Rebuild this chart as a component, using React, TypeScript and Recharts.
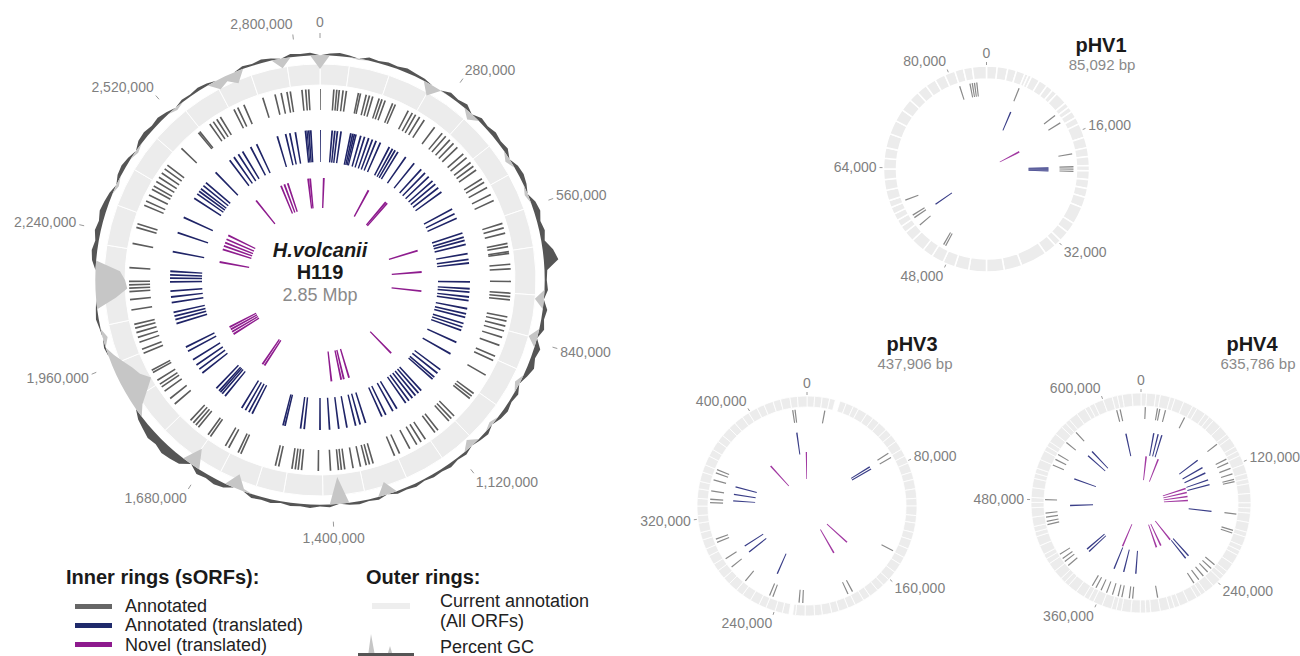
import { PieChart, Pie, Cell, RadarChart, Radar, PolarAngleAxis, PolarRadiusAxis } from 'recharts';

const FONT = '"Liberation Sans", Arial, sans-serif';

// ---- main chromosome (H. volcanii H119) ----
const mainLength = 2850000;
const mainTicks = [0, 280000, 560000, 840000, 1120000, 1400000, 1680000, 1960000, 2240000, 2520000, 2800000];
// sORF positions, kbp
const mainAnnotatedKb = [0, 33, 40, 46, 55, 63, 92, 97, 111, 119, 127, 143, 150, 158, 177, 184, 218, 229, 238, 249, 262, 292, 315, 326, 339, 351, 364, 385, 397, 412, 423, 434, 459, 469, 483, 502, 518, 576, 587, 600, 625, 633, 645, 649, 675, 686, 716, 744, 752, 760, 801, 811, 823, 835, 851, 871, 899, 910, 949, 1001, 1009, 1016, 1072, 1081, 1089, 1123, 1132, 1160, 1172, 1184, 1203, 1230, 1243, 1297, 1306, 1314, 1328, 1346, 1366, 1374, 1381, 1400, 1429, 1469, 1477, 1484, 1492, 1524, 1532, 1619, 1626, 1651, 1660, 1702, 1709, 1738, 1746, 1754, 1763, 1817, 1834, 1856, 1868, 1876, 1887, 1908, 1914, 1959, 1969, 1987, 1999, 2011, 2022, 2031, 2066, 2091, 2110, 2118, 2126, 2134, 2167, 2225, 2264, 2273, 2320, 2331, 2347, 2362, 2371, 2383, 2395, 2407, 2419, 2430, 2482, 2537, 2541, 2571, 2581, 2591, 2601, 2638, 2648, 2664, 2712, 2742, 2757, 2771, 2779, 2807, 2816, 2823];
const mainTranslatedKb = [0, 37, 45, 53, 64, 94, 100, 105, 110, 125, 137, 150, 162, 174, 188, 218, 229, 238, 248, 276, 308, 336, 352, 368, 385, 398, 412, 428, 489, 505, 520, 568, 581, 591, 604, 632, 650, 661, 718, 739, 749, 764, 775, 800, 816, 827, 846, 857, 868, 907, 946, 1003, 1017, 1032, 1040, 1089, 1100, 1112, 1124, 1137, 1149, 1181, 1195, 1219, 1232, 1285, 1302, 1316, 1343, 1368, 1396, 1425, 1473, 1484, 1532, 1538, 1638, 1649, 1661, 1674, 1736, 1747, 1754, 1760, 1771, 1834, 1849, 1864, 1883, 1913, 1927, 2004, 2016, 2027, 2039, 2069, 2086, 2104, 2132, 2143, 2153, 2164, 2224, 2283, 2333, 2399, 2415, 2425, 2434, 2446, 2458, 2501, 2557, 2573, 2589, 2604, 2632, 2652, 2719, 2745, 2758, 2775, 2806, 2810, 2816, 2822];
const mainNovelKb = [17, 225, 318, 326, 580, 677, 762, 1075, 1294, 1318, 1330, 1374, 1686, 1697, 1884, 1896, 1908, 1920, 2218, 2276, 2292, 2308, 2324, 2343, 2543, 2672, 2688, 2704, 2797, 2806];
const mainOrfCutsKb = [0, 62, 148, 236, 331, 409, 482, 561, 643, 744, 832, 905, 992, 1078, 1152, 1238, 1331, 1419, 1502, 1561, 1642, 1703, 1788, 1879, 1962, 2043, 2137, 2211, 2298, 2381, 2462, 2546, 2629, 2703, 2781];
// percent GC in 144 equal windows starting at position 0
const mainGcBase = 65;
const mainGcPercent = [
  61.0, 65.6, 65.9, 65.5, 64.6, 65.9, 65.6, 66.0, 65.7, 66.2, 65.8, 65.6,
  61.6, 64.8, 66.1, 65.7, 66.3, 63.0, 66.2, 65.8, 66.4, 65.9, 66.3, 63.6,
  66.1, 66.4, 65.9, 64.1, 66.3, 66.8, 66.0, 66.6, 66.0, 68.0, 69.2, 65.8,
  65.6, 66.0, 62.4, 66.3, 65.8, 66.4, 62.5, 66.8, 66.2, 67.0, 66.1, 63.6,
  66.2, 65.7, 66.3, 65.9, 64.0, 66.0, 65.6, 62.8, 65.9, 65.5, 66.1, 65.7,
  65.9, 65.5, 66.0, 65.6, 65.8, 61.3, 65.8, 65.5, 65.9, 65.6, 57.2, 65.8,
  65.5, 66.0, 65.7, 65.9, 65.5, 66.1, 65.8, 66.1, 64.3, 60.8, 66.2, 66.6,
  66.1, 66.5, 59.6, 67.0, 67.5, 67.9, 67.2, 67.6, 66.9, 66.3, 62.7, 59.3,
  56.4, 58.7, 59.9, 61.6, 63.4, 65.5, 63.6, 65.3, 65.8, 65.4, 59.3, 55.8,
  56.4, 57.9, 66.2, 66.6, 66.0, 66.7, 66.2, 66.8, 66.4, 65.9, 64.2, 66.0,
  66.3, 65.8, 64.2, 66.2, 66.5, 66.0, 66.4, 65.8, 64.2, 65.7, 65.5, 65.9,
  65.6, 62.2, 63.4, 61.6, 65.8, 65.5, 66.0, 65.6, 62.2, 65.9, 65.6, 65.8,
];

// ---- pHV1 ----
const pHV1Length = 85092;
const pHV1Ticks = [0, 16000, 32000, 48000, 64000, 80000];
const pHV1Annotated = [5200, 12290, 13710, 18910, 20920, 21280, 21630, 49170, 49530, 54370, 55790, 56260, 58860, 80850, 82500, 82860, 83210, 83570];
const pHV1Translated = [5440, 21040, 21270, 21470, 21660, 55620];
const pHV1Novel = [14730];
const pHV1OrfCuts = [0, 1420, 2840, 4020, 5200, 5670, 6150, 7330, 8510, 9450, 10170, 11820, 12530, 13240, 14180, 15130, 17020, 18440, 19620, 20800, 21510, 22690, 23880, 25060, 26480, 28840, 30260, 31680, 32620, 34280, 37820, 40190, 42550, 44920, 46810, 48460, 50120, 51540, 53430, 54840, 55790, 56740, 57680, 58630, 59570, 60990, 62410, 63830, 65250, 66660, 68560, 70450, 72100, 73760, 75170, 76590, 78010, 79430, 80850, 82030, 83210];

// ---- pHV3 ----
const pHV3Length = 437906;
const pHV3Ticks = [0, 80000, 160000, 240000, 320000, 400000];
const pHV3Annotated = [12890, 69330, 72980, 142930, 184890, 188540, 221990, 224670, 244020, 246560, 266880, 280990, 288290, 301670, 304110, 330860, 333290, 339380, 347420, 352760, 355190, 427580, 429280];
const pHV3Translated = [70550, 72980, 247780, 281600, 288660, 333290, 339380, 346680, 428280];
const pHV3Novel = [160810, 182700, 386460, 437300];
const pHV3OrfCuts = [0, 4900, 9700, 14600, 25500, 30400, 34100, 40100, 45000, 49900, 56000, 60800, 65700, 71800, 76600, 81500, 87600, 92400, 98500, 104600, 109500, 115600, 120400, 126500, 131400, 137500, 143500, 148400, 154500, 160600, 165400, 170300, 176400, 181200, 187300, 192200, 198300, 203100, 209200, 214100, 220200, 226300, 234800, 239600, 245700, 250600, 256700, 262700, 267600, 273700, 278600, 284600, 289500, 295600, 300400, 306500, 311400, 317500, 322300, 328400, 333300, 339400, 344200, 350300, 355200, 361300, 366100, 372200, 377000, 383200, 388000, 394100, 398900, 405000, 409900, 416000, 420900, 427000, 431800];
const pHV3OrfGaps: [number, number][] = [[18200, 21300], [228100, 230500]];

// ---- pHV4 ----
const pHV4Length = 635786;
const pHV4Ticks = [0, 120000, 240000, 360000, 480000, 600000];
const pHV4Annotated = [4590, 17480, 19960, 26140, 47680, 92370, 110910, 115280, 121510, 127690, 133690, 136170, 170610, 188090, 191090, 229590, 234890, 240190, 246370, 252550, 258730, 300240, 326730, 330260, 338210, 342270, 348450, 354990, 361320, 367340, 371750, 404960, 410610, 414500, 419790, 453890, 457420, 461830, 466250, 480380, 518000, 524530, 530360, 545720, 560530, 609860, 613570];
const pHV4Translated = [18370, 24730, 30200, 93600, 105970, 114800, 125390, 132460, 170960, 243720, 249020, 325310, 342800, 357270, 400900, 405320, 473310, 512000, 550680, 558800, 614080];
const pHV4Novel = [11130, 37970, 127160, 135990, 144820, 153650, 250080, 273740, 283990, 358700];
const pHV4OrfCuts = [0, 5200, 13800, 18100, 27400, 31900, 40600, 49700, 54300, 63200, 68000, 72900, 81600, 90700, 95100, 104300, 109000, 113800, 122700, 131300, 136400, 141000, 150100, 158800, 163600, 168500, 177100, 186200, 190900, 199700, 204600, 209200, 218300, 227000, 231800, 236700, 245300, 254400, 259100, 263900, 272800, 281400, 286500, 291200, 300000, 308900, 313500, 318600, 327300, 336100, 341000, 345600, 354700, 363400, 368200, 373100, 381700, 390800, 395500, 400300, 409200, 417800, 422900, 427600, 436400, 445300, 449900, 455000, 463700, 472500, 477400, 482000, 491100, 499800, 504600, 509500, 518100, 527200, 531900, 536700, 545600, 554200, 559300, 564000, 572800, 581700, 586300, 591400, 600100, 608900, 613800, 618400, 627500];

type Band = [number, number];
type Radii = { ring: Band; annotated: Band; translated: Band; novel: Band; axis: number; tickSize: number };

const fmt = (v: number) => v.toLocaleString('en-US');

function tickSlices(positions: number[], length: number, widthBp: number) {
  const sorted = [...positions].sort((a, b) => a - b);
  const out: { value: number; mark: boolean }[] = [];
  let cursor = 0;
  for (const p of sorted) {
    const start = Math.max(cursor, p - widthBp / 2);
    const end = Math.min(length, p + widthBp / 2);
    if (start > cursor) out.push({ value: start - cursor, mark: false });
    if (end > start) out.push({ value: end - start, mark: true });
    cursor = Math.max(cursor, end);
  }
  if (cursor < length) out.push({ value: length - cursor, mark: false });
  return out;
}

function ringSlices(cuts: number[], gaps: Band[], length: number) {
  const pts = Array.from(new Set([0, length, ...cuts, ...gaps.flat()])).sort((a, b) => a - b);
  const out: { value: number; mark: boolean }[] = [];
  for (let i = 0; i < pts.length - 1; i++) {
    const s = pts[i];
    const e = pts[i + 1];
    if (e <= s) continue;
    const mid = (s + e) / 2;
    out.push({ value: e - s, mark: !gaps.some(([a, b]) => mid > a && mid < b) });
  }
  return out;
}

const axisTick = (cx: number, cy: number, push: number, fontSize: number) => (props: any) => {
  const { x, y, payload } = props;
  const dx = x - cx;
  const dy = y - cy;
  const len = Math.hypot(dx, dy) || 1;
  const ux = dx / len;
  const uy = dy / len;
  const anchor = Math.abs(ux) < 0.06 ? 'middle' : ux > 0 ? 'start' : 'end';
  return (
    <text x={x + ux * 3} y={y + uy * push} textAnchor={anchor} dominantBaseline="central" fill="#7f7f7f" fontSize={fontSize} fontFamily={FONT}>
      {fmt(payload.value)}
    </text>
  );
};

interface GenomeProps {
  left: number;
  top: number;
  width: number;
  height: number;
  cx: number;
  cy: number;
  length: number;
  radii: Radii;
  cuts: number[];
  gaps?: Band[];
  sepWidth: number;
  annotated: number[];
  translated: number[];
  novel: number[];
  markPx: number;
  ticks: number[];
  colors: { annotated: string; translated: string; novel: string };
  push: number;
  gc?: number[];
}

function Genome(p: GenomeProps) {
  const bpPerPx = (r: Band) => (p.length / (2 * Math.PI)) / ((r[0] + r[1]) / 2);
  const orf = ringSlices(p.cuts, p.gaps ?? [], p.length);
  const tracks = [
    { key: 'annotated', r: p.radii.annotated, data: tickSlices(p.annotated, p.length, p.markPx * bpPerPx(p.radii.annotated)), color: p.colors.annotated },
    { key: 'translated', r: p.radii.translated, data: tickSlices(p.translated, p.length, p.markPx * bpPerPx(p.radii.translated)), color: p.colors.translated },
    { key: 'novel', r: p.radii.novel, data: tickSlices(p.novel, p.length, p.markPx * bpPerPx(p.radii.novel)), color: p.colors.novel },
  ];
  const gcRows = p.gc
    ? [...p.gc, p.gc[0]].map((v, i) => ({
        pos: (i * p.length) / p.gc!.length,
        dark: [mainGcBase, Math.max(v, mainGcBase)],
        light: [Math.min(v, mainGcBase), mainGcBase],
      }))
    : p.ticks.map((t) => ({ pos: t }));
  const margin = { top: 0, right: 0, bottom: 0, left: 0 };
  return (
    <div style={{ position: 'absolute', left: p.left, top: p.top, width: p.width, height: p.height }}>
      <div style={{ position: 'absolute', left: 0, top: 0 }}>
        <PieChart width={p.width} height={p.height} margin={margin}>
          <Pie data={orf} dataKey="value" cx={p.cx} cy={p.cy} innerRadius={p.radii.ring[0]} outerRadius={p.radii.ring[1]} startAngle={90} endAngle={-270} stroke="#fff" strokeWidth={p.sepWidth} isAnimationActive={false}>
            {orf.map((d, i) => (
              <Cell key={i} fill={d.mark ? '#ececec' : 'transparent'} stroke={d.mark ? '#fff' : 'none'} />
            ))}
          </Pie>
          {tracks.map((t) => (
            <Pie key={t.key} data={t.data} dataKey="value" cx={p.cx} cy={p.cy} innerRadius={t.r[0]} outerRadius={t.r[1]} startAngle={90} endAngle={-270} stroke="none" isAnimationActive={false}>
              {t.data.map((d, i) => (
                <Cell key={i} fill={d.mark ? t.color : 'transparent'} />
              ))}
            </Pie>
          ))}
        </PieChart>
      </div>
      <div style={{ position: 'absolute', left: 0, top: 0 }}>
        <RadarChart width={p.width} height={p.height} cx={p.cx} cy={p.cy} outerRadius={p.radii.axis} startAngle={90} endAngle={-270} data={gcRows} margin={margin}>
          <PolarAngleAxis
            dataKey="pos"
            type="number"
            domain={[0, p.length]}
            ticks={p.ticks}
            axisLine={false}
            tickLine={{ stroke: '#9a9a9a' }}
            tickSize={p.radii.tickSize}
            tick={axisTick(p.cx, p.cy, p.push, 14)}
          />
          <PolarRadiusAxis type="number" domain={[0, 70]} allowDataOverflow tick={false} axisLine={false} />
          {p.gc && <Radar dataKey="dark" fill="#555555" fillOpacity={1} stroke="none" dot={false} isAnimationActive={false} />}
          {p.gc && <Radar dataKey="light" fill="#c6c6c6" fillOpacity={1} stroke="none" dot={false} isAnimationActive={false} />}
        </RadarChart>
      </div>
    </div>
  );
}

function Txt({ x, y, size, weight = 400, italic = false, color = '#1a1a1a', center = false, children }: any) {
  return (
    <div
      style={{
        position: 'absolute',
        left: x,
        top: y,
        transform: center ? 'translate(-50%, -50%)' : 'translateY(-50%)',
        fontSize: size,
        fontWeight: weight,
        fontStyle: italic ? 'italic' : 'normal',
        color,
        whiteSpace: 'nowrap',
        lineHeight: 1,
      }}
    >
      {children}
    </div>
  );
}

const mainColors = { annotated: '#5c5c5c', translated: '#1f2467', novel: '#8e1c8e' };
const plasmidColors = { annotated: '#8a8a8a', translated: '#3a3e88', novel: '#a23aa2' };

export default function App() {
  const k = (a: number[]) => a.map((v) => v * 1000);
  return (
    <div style={{ position: 'absolute', left: 0, top: 0, width: 1300, height: 656, background: '#fff', fontFamily: FONT, overflow: 'hidden' }}>
      <Genome
        left={0} top={0} width={640} height={600} cx={320} cy={280}
        length={mainLength}
        radii={{ ring: [195, 216], annotated: [170, 191], translated: [118, 150], novel: [72, 102], axis: 242, tickSize: 5 }}
        cuts={k(mainOrfCutsKb)} sepWidth={1}
        annotated={k(mainAnnotatedKb)} translated={k(mainTranslatedKb)} novel={k(mainNovelKb)}
        markPx={1.6} ticks={mainTicks} colors={mainColors} push={11} gc={mainGcPercent}
      />
      <Genome
        left={800} top={20} width={360} height={290} cx={186.5} cy={149}
        length={pHV1Length}
        radii={{ ring: [90, 103], annotated: [73, 87], translated: [42, 62], novel: [15, 37], axis: 104, tickSize: 3 }}
        cuts={pHV1OrfCuts} sepWidth={1.5}
        annotated={pHV1Annotated} translated={pHV1Translated} novel={pHV1Novel}
        markPx={1.2} ticks={pHV1Ticks} colors={plasmidColors} push={9}
      />
      <Genome
        left={620} top={350} width={380} height={300} cx={187} cy={156}
        length={pHV3Length}
        radii={{ ring: [99, 110], annotated: [84, 97], translated: [52, 74], novel: [27, 54], axis: 111, tickSize: 3 }}
        cuts={pHV3OrfCuts} gaps={pHV3OrfGaps} sepWidth={0.8}
        annotated={pHV3Annotated} translated={pHV3Translated} novel={pHV3Novel}
        markPx={1.2} ticks={pHV3Ticks} colors={plasmidColors} push={9}
      />
      <Genome
        left={960} top={350} width={340} height={300} cx={181} cy={153}
        length={pHV4Length}
        radii={{ ring: [97, 110], annotated: [84, 96], translated: [48, 71], novel: [23, 47], axis: 111, tickSize: 3 }}
        cuts={pHV4OrfCuts} sepWidth={0.8}
        annotated={pHV4Annotated} translated={pHV4Translated} novel={pHV4Novel}
        markPx={1.2} ticks={pHV4Ticks} colors={plasmidColors} push={9}
      />

      <Txt x={320} y={250} size={20} weight={700} italic center>H.volcanii</Txt>
      <Txt x={320} y={272} size={20} weight={700} center>H119</Txt>
      <Txt x={320} y={295} size={18} color="#8a8a8a" center>2.85 Mbp</Txt>

      <Txt x={1101} y={45} size={20} weight={700} center>pHV1</Txt>
      <Txt x={1102} y={64} size={15} color="#8a8a8a" center>85,092 bp</Txt>
      <Txt x={912} y={344} size={20} weight={700} center>pHV3</Txt>
      <Txt x={915} y={363} size={15} color="#8a8a8a" center>437,906 bp</Txt>
      <Txt x={1252} y={344} size={20} weight={700} center>pHV4</Txt>
      <Txt x={1258} y={363} size={15} color="#8a8a8a" center>635,786 bp</Txt>

      <Txt x={66} y={577} size={20} weight={700}>Inner rings (sORFs):</Txt>
      <div style={{ position: 'absolute', left: 75, top: 604, width: 37, height: 5, background: '#666666' }} />
      <div style={{ position: 'absolute', left: 75, top: 623, width: 37, height: 5, background: '#1f2a6b' }} />
      <div style={{ position: 'absolute', left: 75, top: 642, width: 37, height: 5, background: '#8e1a8e' }} />
      <Txt x={125} y={606} size={18} color="#222">Annotated</Txt>
      <Txt x={125} y={625} size={18} color="#222">Annotated (translated)</Txt>
      <Txt x={125} y={645} size={18} color="#222">Novel (translated)</Txt>

      <Txt x={366} y={577} size={20} weight={700}>Outer rings:</Txt>
      <div style={{ position: 'absolute', left: 372, top: 603, width: 38, height: 6, background: '#eeeeee' }} />
      <Txt x={440} y={601} size={18} color="#222">Current annotation</Txt>
      <Txt x={440} y={621} size={18} color="#222">(All ORFs)</Txt>
      <svg width={60} height={30} style={{ position: 'absolute', left: 356, top: 628 }}>
        <path d="M2 28 L12 28 L15 6 L19 28 L31 28 L34 18 L37 28 L58 28 Z" fill="#c6c6c6" />
        <rect x={2} y={25} width={56} height={3} fill="#555555" />
      </svg>
      <Txt x={440} y={647} size={18} color="#222">Percent GC</Txt>
    </div>
  );
}
